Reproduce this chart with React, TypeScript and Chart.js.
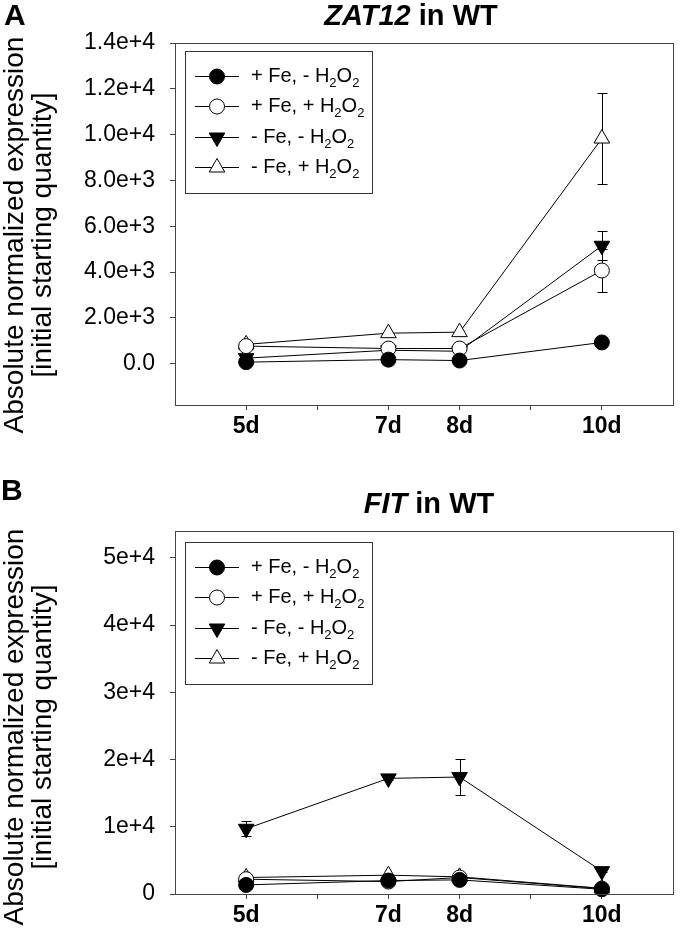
import React, { useEffect, useRef } from 'react';
import { Chart, registerables } from 'chart.js';
import { drawPoint } from 'chart.js/helpers';

Chart.register(...registerables);

// ---- shared ----
const days = [5, 7, 8, 10];
const xTickValues = [5, 6, 7, 8, 9, 10];
const xTickLabels = ['5d', '', '7d', '8d', '', '10d'];
const seriesLabels = ['+ Fe, - H2O2', '+ Fe, + H2O2', '- Fe, - H2O2', '- Fe, + H2O2'];
const yTitleLines = ['Absolute normalized expression', '[initial starting quantity]'];

// ---- panel A: ZAT12 ----
const zatFeNoH2O2 = [70, 180, 140, 930];
const zatFeH2O2 = [770, 665, 665, 4070];
const zatNoFeNoH2O2 = [245, 590, 545, 5150];
const zatNoFeH2O2 = [845, 1335, 1380, 9830];
const zatErrFeNoH2O2 = [0, 0, 0, 0];
const zatErrFeH2O2 = [0, 0, 0, 950];
const zatErrNoFeNoH2O2 = [0, 0, 0, 640];
const zatErrNoFeH2O2 = [0, 0, 0, 1970];
const zatTickValues = [0, 2000, 4000, 6000, 8000, 10000, 12000, 14000];
const zatTickLabels = ['0.0', '2.0e+3', '4.0e+3', '6.0e+3', '8.0e+3', '1.0e+4', '1.2e+4', '1.4e+4'];

// ---- panel B: FIT ----
const fitFeNoH2O2 = [1350, 2000, 2100, 700];
const fitFeH2O2 = [2200, 1850, 2450, 800];
const fitNoFeNoH2O2 = [9700, 17200, 17400, 3400];
const fitNoFeH2O2 = [2450, 2800, 2550, 850];
const fitErrFeNoH2O2 = [0, 0, 0, 0];
const fitErrFeH2O2 = [0, 0, 0, 0];
const fitErrNoFeNoH2O2 = [1100, 300, 2700, 200];
const fitErrNoFeH2O2 = [0, 0, 0, 0];
const fitTickValues = [0, 10000, 20000, 30000, 40000, 50000];
const fitTickLabels = ['0', '1e+4', '2e+4', '3e+4', '4e+4', '5e+4'];

const FONT = '"Liberation Sans", Arial, Helvetica, sans-serif';

const markerStyles = [
  { pointStyle: 'circle', fill: '#000000', rotation: 0, radius: 7.5 },
  { pointStyle: 'circle', fill: '#ffffff', rotation: 0, radius: 7.5 },
  { pointStyle: 'triangle', fill: '#000000', rotation: 180, radius: 9 },
  { pointStyle: 'triangle', fill: '#ffffff', rotation: 0, radius: 9 },
];

function splitSub(label: string) {
  // digits in chemical formula become subscripts
  const parts: { t: string; sub: boolean }[] = [];
  let buf = '';
  for (const ch of label) {
    const isDigit = /[0-9]/.test(ch);
    if (isDigit) {
      if (buf) parts.push({ t: buf, sub: false });
      buf = '';
      parts.push({ t: ch, sub: true });
    } else buf += ch;
  }
  if (buf) parts.push({ t: buf, sub: false });
  return parts;
}

const decorPlugin = {
  id: 'decor',
  beforeDatasetsDraw(chart: any) {
    const ctx = chart.ctx;
    const xs = chart.scales.x;
    const ys = chart.scales.y;
    ctx.save();
    ctx.strokeStyle = '#000';
    ctx.lineWidth = 1;
    chart.data.datasets.forEach((ds: any) => {
      const err = ds.errors;
      if (!err) return;
      ds.data.forEach((p: any, i: number) => {
        const e = err[i];
        if (!e) return;
        const x = Math.round(xs.getPixelForValue(p.x)) + 0.5;
        const y1 = Math.round(ys.getPixelForValue(p.y + e)) + 0.5;
        const y2 = Math.round(ys.getPixelForValue(p.y - e)) + 0.5;
        ctx.beginPath();
        ctx.moveTo(x, y1);
        ctx.lineTo(x, y2);
        ctx.moveTo(x - 5, y1);
        ctx.lineTo(x + 5, y1);
        ctx.moveTo(x - 5, y2);
        ctx.lineTo(x + 5, y2);
        ctx.stroke();
      });
    });
    ctx.restore();
  },
  afterDraw(chart: any, _args: any, opts: any) {
    const ctx = chart.ctx;
    const a = chart.chartArea;
    ctx.save();
    // frame
    ctx.strokeStyle = '#444';
    ctx.lineWidth = 1;
    ctx.strokeRect(Math.round(a.left) + 0.5, Math.round(a.top) + 0.5, Math.round(a.right - a.left), Math.round(a.bottom - a.top));

    // legend
    const lx = a.left + opts.legendDx;
    const ly = a.top + opts.legendDy;
    const lw = 187;
    const lh = 142;
    ctx.fillStyle = '#fff';
    ctx.fillRect(lx, ly, lw, lh);
    ctx.strokeStyle = '#333';
    ctx.strokeRect(Math.round(lx) + 0.5, Math.round(ly) + 0.5, lw, lh);
    chart.data.datasets.forEach((ds: any, i: number) => {
      const cy = Math.round(ly + 25 + i * 30.3);
      const ms = markerStyles[i];
      ctx.strokeStyle = '#000';
      ctx.lineWidth = 1;
      ctx.beginPath();
      ctx.moveTo(lx + 10, cy + 0.5);
      ctx.lineTo(lx + 54, cy + 0.5);
      ctx.stroke();
      ctx.fillStyle = ms.fill;
      ctx.strokeStyle = '#000';
      drawPoint(ctx, { pointStyle: ms.pointStyle, radius: ms.radius, rotation: ms.rotation, borderWidth: 1 } as any, lx + 32, cy + 0.5);
      // text
      ctx.fillStyle = '#000';
      ctx.textBaseline = 'alphabetic';
      ctx.textAlign = 'left';
      let tx = lx + 66;
      const base = cy + 6;
      splitSub(ds.label).forEach((p) => {
        ctx.font = p.sub ? `13px ${FONT}` : `20px ${FONT}`;
        ctx.fillText(p.t, tx, p.sub ? base + 5 : base);
        tx += ctx.measureText(p.t).width;
      });
    });

    // y-axis title
    ctx.fillStyle = '#000';
    ctx.font = `28px ${FONT}`;
    ctx.textAlign = 'center';
    ctx.textBaseline = 'middle';
    yTitleLines.forEach((line, i) => {
      ctx.save();
      ctx.translate(opts.titleX[i], opts.titleY);
      ctx.rotate(-Math.PI / 2);
      ctx.fillText(line, 0, 0);
      ctx.restore();
    });
    ctx.restore();
  },
};

function buildDatasets(values: number[][], errors: number[][]) {
  return values.map((vals, i) => {
    const ms = markerStyles[i];
    return {
      label: seriesLabels[i],
      data: vals.map((v, j) => ({ x: days[j], y: v })),
      errors: errors[i],
      borderColor: '#000',
      borderWidth: 1,
      pointStyle: ms.pointStyle,
      pointRadius: ms.radius,
      pointRotation: ms.rotation,
      pointBackgroundColor: ms.fill,
      pointBorderColor: '#000',
      pointBorderWidth: 1,
      tension: 0,
      fill: false,
      clip: false,
    };
  });
}

function makeConfig(p: any) {
  return {
    type: 'line',
    data: { datasets: buildDatasets(p.values, p.errors) },
    plugins: [decorPlugin],
    options: {
      animation: false,
      responsive: false,
      devicePixelRatio: 1,
      events: [],
      layout: { padding: p.padding },
      plugins: {
        legend: { display: false },
        title: { display: false },
        tooltip: { enabled: false },
        decor: { legendDx: p.legendDx, legendDy: p.legendDy, titleX: p.titleX, titleY: p.titleY },
      },
      scales: {
        x: {
          type: 'linear',
          min: 4,
          max: 11,
          afterBuildTicks: (s: any) => {
            s.ticks = xTickValues.map((v) => ({ value: v }));
          },
          afterFit: (s: any) => {
            s.height = p.xHeight;
          },
          ticks: {
            autoSkip: false,
            maxRotation: 0,
            padding: 3,
            color: '#000',
            font: { family: FONT, size: 23, weight: 'bold' },
            callback: (_v: any, i: number) => xTickLabels[i],
          },
          grid: { drawOnChartArea: false, drawTicks: true, tickLength: 5, tickColor: '#444', tickWidth: 1 },
          border: { display: true, color: '#444', width: 1 },
        },
        y: {
          type: 'linear',
          min: p.yMin,
          max: p.yMax,
          afterBuildTicks: (s: any) => {
            s.ticks = p.tickValues.map((v: number) => ({ value: v }));
          },
          afterFit: (s: any) => {
            s.width = 175;
          },
          ticks: {
            autoSkip: false,
            padding: 15,
            color: '#000',
            font: { family: FONT, size: 23 },
            callback: (_v: any, i: number) => p.tickLabels[i],
          },
          grid: { drawOnChartArea: false, drawTicks: true, tickLength: 5, tickColor: '#444', tickWidth: 1 },
          border: { display: true, color: '#444', width: 1 },
        },
      },
    },
  };
}

function Panel(props: { cfg: any; height: number; top: number }) {
  const ref = useRef<HTMLCanvasElement>(null);
  useEffect(() => {
    if (!ref.current) return;
    const chart = new Chart(ref.current, makeConfig(props.cfg) as any);
    return () => chart.destroy();
  }, []);
  return (
    <canvas
      ref={ref}
      width={683}
      height={props.height}
      style={{ position: 'absolute', left: 0, top: props.top, width: 683, height: props.height }}
    />
  );
}

const panelA = {
  values: [zatFeNoH2O2, zatFeH2O2, zatNoFeNoH2O2, zatNoFeH2O2],
  errors: [zatErrFeNoH2O2, zatErrFeH2O2, zatErrNoFeNoH2O2, zatErrNoFeH2O2],
  tickValues: zatTickValues,
  tickLabels: zatTickLabels,
  yMin: -1800,
  yMax: 14000,
  padding: { left: 0, top: 43, right: 8, bottom: 20 },
  xHeight: 40,
  legendDx: 10,
  legendDy: 8,
  titleX: [15, 43],
  titleY: 235,
};

const panelB = {
  values: [fitFeNoH2O2, fitFeH2O2, fitNoFeNoH2O2, fitNoFeH2O2],
  errors: [fitErrFeNoH2O2, fitErrFeH2O2, fitErrNoFeNoH2O2, fitErrNoFeH2O2],
  tickValues: fitTickValues,
  tickLabels: fitTickLabels,
  yMin: 0,
  yMax: 54000,
  padding: { left: 0, top: 66, right: 3, bottom: 0 },
  xHeight: 35,
  legendDx: 10,
  legendDy: 11,
  titleX: [15, 43],
  titleY: 262,
};

export default function App() {
  const bold = { fontFamily: FONT, fontWeight: 'bold' as const, position: 'absolute' as const, whiteSpace: 'nowrap' as const, color: '#000' };
  return (
    <div style={{ position: 'absolute', left: 0, top: 0, width: 683, height: 929, background: '#fff', overflow: 'hidden' }}>
      <Panel cfg={panelA} height={465} top={0} />
      <Panel cfg={panelB} height={464} top={465} />
      <div style={{ ...bold, left: 4, top: 0, fontSize: 30, lineHeight: '30px' }}>A</div>
      <div style={{ ...bold, left: 1, top: 475, fontSize: 30, lineHeight: '30px' }}>B</div>
      <div style={{ ...bold, left: 411, top: 0.5, fontSize: 29, lineHeight: '29px', transform: 'translateX(-50%)' }}>
        <i>ZAT12</i> in WT
      </div>
      <div style={{ ...bold, left: 429, top: 488.5, fontSize: 29, lineHeight: '29px', transform: 'translateX(-50%)' }}>
        <i>FIT</i> in WT
      </div>
    </div>
  );
}
